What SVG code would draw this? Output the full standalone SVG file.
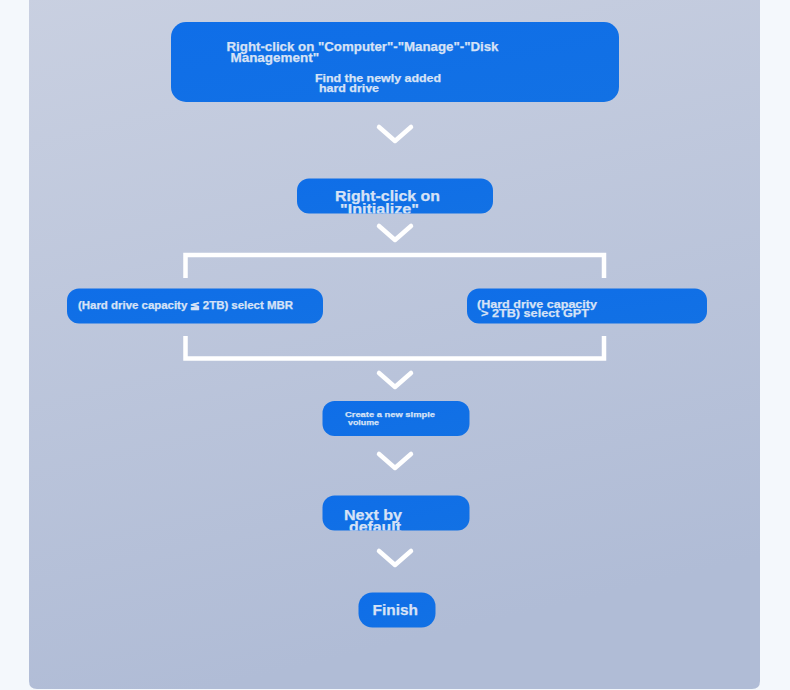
<svg xmlns="http://www.w3.org/2000/svg" width="790" height="690" viewBox="0 0 790 690">
  <defs>
    <linearGradient id="panelGrad" x1="0" y1="0" x2="0.25" y2="1">
      <stop offset="0" stop-color="#c9d0e1"/>
      <stop offset="1" stop-color="#b0bcd6"/>
    </linearGradient>
    <linearGradient id="nodeGrad" x1="0" y1="0" x2="1" y2="1">
      <stop offset="0" stop-color="#0f6ee8"/>
      <stop offset="1" stop-color="#1271e4"/>
    </linearGradient>
    <clipPath id="clipN2"><rect x="297" y="178.5" width="196" height="35" rx="12"/></clipPath>
    <clipPath id="clipN6"><rect x="322.5" y="495.5" width="147" height="35" rx="12"/></clipPath>
  </defs>
  <style>
    .node { fill: url(#nodeGrad); }
    .txt { font-family: "Liberation Sans", Arial, sans-serif; font-weight: bold; fill: #d6e2f6; stroke: #d6e2f6; stroke-width: 0.25; }
    .link { fill: none; stroke: #ffffff; stroke-width: 4.5; stroke-linecap: round; stroke-linejoin: round; }
    .bracket { fill: none; stroke: #ffffff; stroke-width: 4.5; stroke-linecap: butt; stroke-linejoin: miter; }
  </style>
  <rect x="0" y="0" width="790" height="690" fill="#f4f8fc"/>
  <path d="M29,-10 H760 V681 Q760,689 752,689 H37 Q29,689 29,681 Z" fill="url(#panelGrad)"/>

  <g id="connectors">
    <path class="link" d="M379,127 L395,141 L411,127"/>
    <path class="link" d="M379,226 L395,240 L411,226"/>
    <path class="bracket" d="M185.5,278 V255 H604 V278"/>
    <path class="bracket" d="M185.5,336 V358.5 H604 V336"/>
    <path class="link" d="M379,373 L395,387 L411,373"/>
    <path class="link" d="M379,454 L395,468 L411,454"/>
    <path class="link" d="M379,551 L395,565 L411,551"/>
  </g>

  <g id="node-disk-management">
    <rect class="node" x="171" y="22" width="448" height="80" rx="15"/>
    <text class="txt" font-size="13" x="226.5" y="51" textLength="272" lengthAdjust="spacingAndGlyphs">Right-click on "Computer"-"Manage"-"Disk</text>
    <text class="txt" font-size="13" x="230.5" y="62" textLength="88.5" lengthAdjust="spacingAndGlyphs">Management"</text>
    <text class="txt" font-size="10.5" x="315" y="81.5" textLength="126" lengthAdjust="spacingAndGlyphs">Find the newly added</text>
    <text class="txt" font-size="10.5" x="319" y="91.5" textLength="60" lengthAdjust="spacingAndGlyphs">hard drive</text>
  </g>

  <g id="node-initialize">
    <rect class="node" x="297" y="178.5" width="196" height="35" rx="12"/>
    <g clip-path="url(#clipN2)">
      <text class="txt" font-size="14" x="335" y="201" textLength="105" lengthAdjust="spacingAndGlyphs">Right-click on</text>
      <text class="txt" font-size="14" x="340" y="213.5" textLength="79" lengthAdjust="spacingAndGlyphs">"Initialize"</text>
    </g>
  </g>

  <g id="node-mbr">
    <rect class="node" x="67" y="288.5" width="256" height="35" rx="12"/>
    <text class="txt" font-size="10" x="78" y="308.5" textLength="215" lengthAdjust="spacingAndGlyphs">(Hard drive capacity ≦ 2TB) select MBR</text>
  </g>

  <g id="node-gpt">
    <rect class="node" x="467" y="288.5" width="240" height="35" rx="12"/>
    <text class="txt" font-size="11.5" x="477" y="307.5" textLength="120" lengthAdjust="spacingAndGlyphs">(Hard drive capacity</text>
    <text class="txt" font-size="11.5" x="481" y="317" textLength="108" lengthAdjust="spacingAndGlyphs">&gt; 2TB) select GPT</text>
  </g>

  <g id="node-simple-volume">
    <rect class="node" x="322.5" y="401" width="147" height="35" rx="12"/>
    <text class="txt" font-size="8" x="345" y="417" textLength="90" lengthAdjust="spacingAndGlyphs">Create a new simple</text>
    <text class="txt" font-size="8" x="348" y="425" textLength="31" lengthAdjust="spacingAndGlyphs">volume</text>
  </g>

  <g id="node-next">
    <rect class="node" x="322.5" y="495.5" width="147" height="35" rx="12"/>
    <g clip-path="url(#clipN6)">
      <text class="txt" font-size="14" x="344" y="520" textLength="58" lengthAdjust="spacingAndGlyphs">Next by</text>
      <text class="txt" font-size="14" x="349" y="531.5" textLength="52" lengthAdjust="spacingAndGlyphs">default</text>
    </g>
  </g>

  <g id="node-finish">
    <rect class="node" x="358.5" y="592.5" width="77" height="35" rx="14"/>
    <text class="txt" font-size="15" x="372.5" y="614.5" textLength="45.5" lengthAdjust="spacingAndGlyphs">Finish</text>
  </g>
</svg>
